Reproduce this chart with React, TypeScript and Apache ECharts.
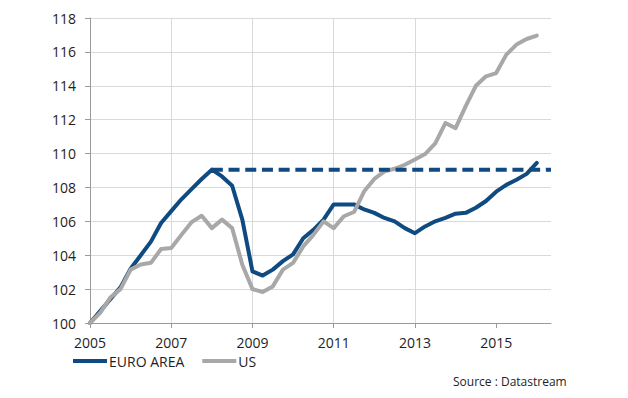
import React, { useEffect, useRef } from "react";
import * as echarts from "echarts";

const quarters = [
  "2005-Q1", "2005-Q2", "2005-Q3", "2005-Q4",
  "2006-Q1", "2006-Q2", "2006-Q3", "2006-Q4",
  "2007-Q1", "2007-Q2", "2007-Q3", "2007-Q4",
  "2008-Q1", "2008-Q2", "2008-Q3", "2008-Q4",
  "2009-Q1", "2009-Q2", "2009-Q3", "2009-Q4",
  "2010-Q1", "2010-Q2", "2010-Q3", "2010-Q4",
  "2011-Q1", "2011-Q2", "2011-Q3", "2011-Q4",
  "2012-Q1", "2012-Q2", "2012-Q3", "2012-Q4",
  "2013-Q1", "2013-Q2", "2013-Q3", "2013-Q4",
  "2014-Q1", "2014-Q2", "2014-Q3", "2014-Q4",
  "2015-Q1", "2015-Q2", "2015-Q3", "2015-Q4",
  "2016-Q1",
];

const euroArea = [
  100, 100.7, 101.4, 102.1,
  103.2, 104.0, 104.8, 105.9,
  106.6, 107.3, 107.9, 108.5,
  109.05, 108.65, 108.1, 106.1,
  103.05, 102.8, 103.15, 103.65,
  104.05, 105.0, 105.5, 106.1,
  107.0, 107.0, 107.0, 106.7,
  106.5, 106.2, 106.0, 105.6,
  105.3, 105.7, 106.0, 106.2,
  106.45, 106.5, 106.8, 107.2,
  107.75, 108.15, 108.45, 108.8,
  109.45,
];

const us = [
  100, 100.6, 101.5, 102.0,
  103.15, 103.45, 103.55, 104.37,
  104.43, 105.2, 105.95, 106.33,
  105.6, 106.1, 105.6, 103.44,
  102.0, 101.83, 102.16, 103.15,
  103.55, 104.52, 105.2, 106.0,
  105.6, 106.3, 106.55, 107.77,
  108.5, 108.95, 109.1, 109.34,
  109.65, 109.97, 110.6, 111.8,
  111.5, 112.8, 114.0, 114.56,
  114.75, 115.84, 116.43, 116.76,
  116.96,
];

const xLabelYears = [2005, 2007, 2009, 2011, 2013, 2015];
const xMin = 2005;
const xMax = 2016.35;
const yMin = 100;
const yMax = 118;
const yStep = 2;
const peakQuarter = "2008-Q1";
const seriesNames = ["EURO AREA", "US"];
const sourceText = "Source : Datastream";

const quarterToYear = (q: string) => {
  const [y, qq] = q.split("-Q");
  return Number(y) + (Number(qq) - 1) / 4;
};

const FONT = "'Open Sans', 'Noto Sans', sans-serif";
const BLUE = "#0f4a80";
const GRAY = "#a8a8a8";
const AXIS = "#9a9a9a";
const GRID = "#d9d9d9";
const TEXT = "#1e1e1e";

export default function App() {
  const ref = useRef<HTMLDivElement>(null);

  useEffect(() => {
    document.body.style.margin = "0";
    if (!ref.current) return;
    const chart = echarts.init(ref.current, undefined, { renderer: "svg" });

    const euroData = quarters.map((q, i) => [quarterToYear(q), euroArea[i]]);
    const usData = quarters.map((q, i) => [quarterToYear(q), us[i]]);
    const peakIdx = quarters.indexOf(peakQuarter);
    const peakVal = euroArea[peakIdx];
    const peakData = [
      [quarterToYear(peakQuarter), peakVal],
      [xMax, peakVal],
    ];

    chart.setOption({
      animation: false,
      backgroundColor: "#ffffff",
      textStyle: { fontFamily: FONT },
      grid: { left: 90, right: 77, top: 18, bottom: 75, containLabel: false },
      legend: {
        data: seriesNames,
        left: 73,
        top: 354,
        padding: 0,
        icon: "rect",
        itemWidth: 34,
        itemHeight: 4,
        itemGap: 18,
        textStyle: { fontFamily: FONT, fontSize: 14, color: TEXT, padding: [0, 0, 0, -3] },
      },
      xAxis: {
        type: "value",
        min: xMin,
        max: xMax,
        interval: 1,
        axisLine: { show: true, lineStyle: { color: AXIS, width: 1 } },
        axisTick: {
          show: true,
          length: 5,
          customValues: xLabelYears,
          lineStyle: { color: AXIS },
        },
        axisLabel: {
          customValues: xLabelYears,
          formatter: (v: number) => String(v),
          fontFamily: FONT,
          fontSize: 14,
          color: TEXT,
          margin: 12,
        },
        splitLine: {
          show: true,
          showMinLine: false,
          showMaxLine: false,
          lineStyle: { color: GRID, width: 1 },
        },
      },
      yAxis: {
        type: "value",
        min: yMin,
        max: yMax,
        interval: yStep,
        axisLine: { show: true, lineStyle: { color: AXIS, width: 1 } },
        axisTick: { show: true, length: 5, lineStyle: { color: AXIS } },
        axisLabel: { fontFamily: FONT, fontSize: 14, color: TEXT, margin: 14 },
        splitLine: {
          show: true,
          showMinLine: false,
          lineStyle: { color: GRID, width: 1 },
        },
      },
      series: [
        {
          name: seriesNames[0],
          type: "line",
          data: euroData,
          symbol: "none",
          smooth: false,
          itemStyle: { color: BLUE },
          lineStyle: { color: BLUE, width: 4, cap: "round", join: "round" },
          z: 2,
        },
        {
          name: seriesNames[1],
          type: "line",
          data: usData,
          symbol: "none",
          smooth: false,
          itemStyle: { color: GRAY },
          lineStyle: { color: GRAY, width: 4, cap: "round", join: "round" },
          z: 3,
        },
        {
          name: "peak",
          type: "line",
          data: peakData,
          symbol: "none",
          itemStyle: { color: BLUE },
          lineStyle: { color: BLUE, width: 4, type: [11, 5.7] },
          z: 4,
        },
      ],
      graphic: [
        {
          type: "text",
          left: 453,
          top: 375,
          style: {
            text: sourceText,
            fontFamily: FONT,
            fontSize: 12,
            fill: TEXT,
          },
        },
      ],
    });

    return () => chart.dispose();
  }, []);

  return <div ref={ref} style={{ width: 628, height: 398 }} />;
}
